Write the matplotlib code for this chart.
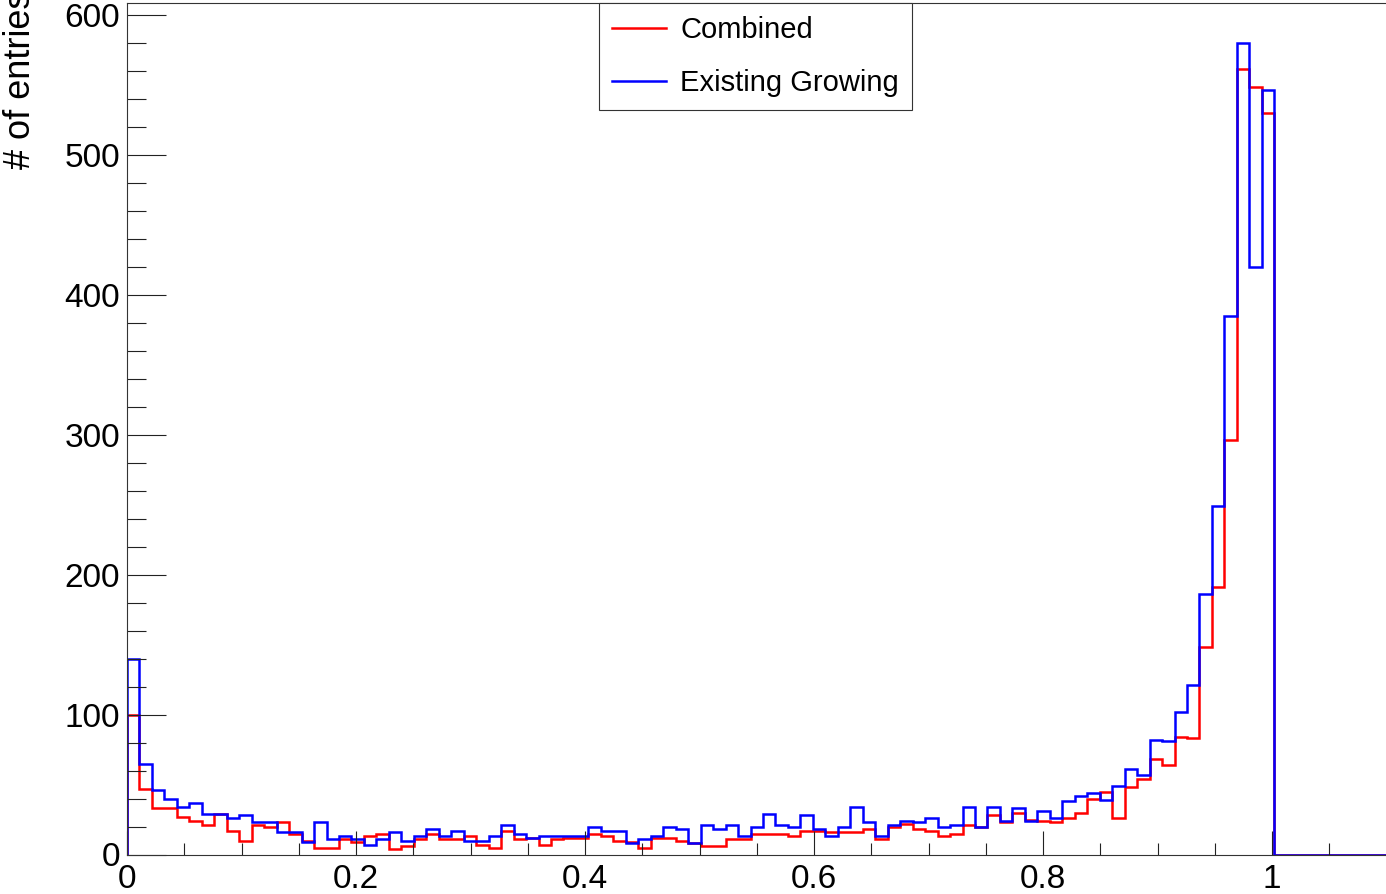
import numpy as np
import matplotlib
matplotlib.use("Agg")
import matplotlib.pyplot as plt
from matplotlib.ticker import MultipleLocator

plt.rcParams['font.family'] = ['Liberation Sans', 'DejaVu Sans']

# 101 bins over [0, 1.1]
x_lo, x_hi, n_bins = 0.0, 1.1, 101

combined = [100, 47, 33, 33, 27, 24, 21, 29, 17, 10,
            21, 20, 23, 15, 10, 5, 5, 11, 9, 13,
            15, 4, 6, 11, 15, 11, 11, 13, 7, 5,
            17, 11, 12, 7, 11, 12, 12, 15, 13, 10,
            9, 5, 12, 12, 10, 8, 6, 6, 11, 11,
            15, 15, 15, 13, 17, 17, 16, 16, 16, 18,
            11, 20, 22, 18, 17, 13, 15, 21, 20, 28,
            23, 30, 25, 24, 23, 26, 30, 40, 45, 26,
            48, 54, 68, 64, 84, 83, 148, 191, 296, 561,
            548, 530]

existing = [140, 65, 46, 40, 34, 37, 29, 29, 26, 28,
            23, 23, 16, 16, 9, 23, 11, 13, 11, 7,
            11, 16, 10, 13, 18, 13, 17, 10, 10, 13,
            21, 15, 12, 13, 13, 13, 13, 20, 17, 17,
            8, 11, 13, 20, 18, 8, 21, 18, 21, 13,
            20, 29, 21, 20, 28, 18, 13, 20, 34, 23,
            13, 21, 24, 23, 26, 20, 21, 34, 20, 34,
            24, 33, 24, 31, 26, 38, 42, 44, 39, 49,
            61, 57, 82, 81, 102, 121, 186, 249, 385, 580,
            420, 546]

labels = ['Combined', 'Existing Growing']

edges = np.linspace(x_lo, x_hi, n_bins + 1)
h_comb = np.zeros(n_bins)
h_comb[:len(combined)] = combined
h_exist = np.zeros(n_bins)
h_exist[:len(existing)] = existing

W, H = 1386, 894
fig = plt.figure(figsize=(W / 100, H / 100), dpi=100)
ax = fig.add_axes([127 / W, (H - 854.5) / H, 1259.5 / W, 852 / H])

ax.stairs(h_comb, edges, baseline=0, color='#ff0000', lw=1.8, label=labels[0])
ax.stairs(h_exist, edges, baseline=0, color='#0000ff', lw=1.8, label=labels[1])

ax.set_xlim(0, 1.1)
ax.set_ylim(0, 608.6)

ax.xaxis.set_major_locator(MultipleLocator(0.2))
ax.xaxis.set_minor_locator(MultipleLocator(0.05))
ax.yaxis.set_major_locator(MultipleLocator(100))
ax.yaxis.set_minor_locator(MultipleLocator(20))
ax.xaxis.set_major_formatter(plt.FuncFormatter(lambda v, p: '%g' % round(v, 3)))

ax.tick_params(axis='both', which='both', direction='in', colors='#222222',
               labelcolor='black', width=0.8, labelsize=24)
ax.tick_params(axis='x', which='major', length=17, pad=7)
ax.tick_params(axis='x', which='minor', length=8.5)
ax.tick_params(axis='y', which='major', length=28, pad=5)
ax.tick_params(axis='y', which='minor', length=13.5)
for s in ax.spines.values():
    s.set_linewidth(0.8)
    s.set_color('#333333')

# y title sits at the top-left and runs off the top edge, as in the original
fig.text(21 / W, (H + 9) / H, '# of entries', rotation=90, ha='center', va='top',
         fontsize=26)

leg = ax.legend(loc='upper left', bbox_to_anchor=(599 / W, (H - 3) / H),
                bbox_transform=fig.transFigure, borderaxespad=0,
                fontsize=21, handlelength=1.86, handletextpad=0.48,
                labelspacing=0.85, borderpad=0.45, fancybox=False,
                edgecolor='#333333', framealpha=1)
leg.get_frame().set_linewidth(0.8)
for line in leg.get_lines():
    line.set_linewidth(1.8)

fig.savefig('out.png', dpi=100)
